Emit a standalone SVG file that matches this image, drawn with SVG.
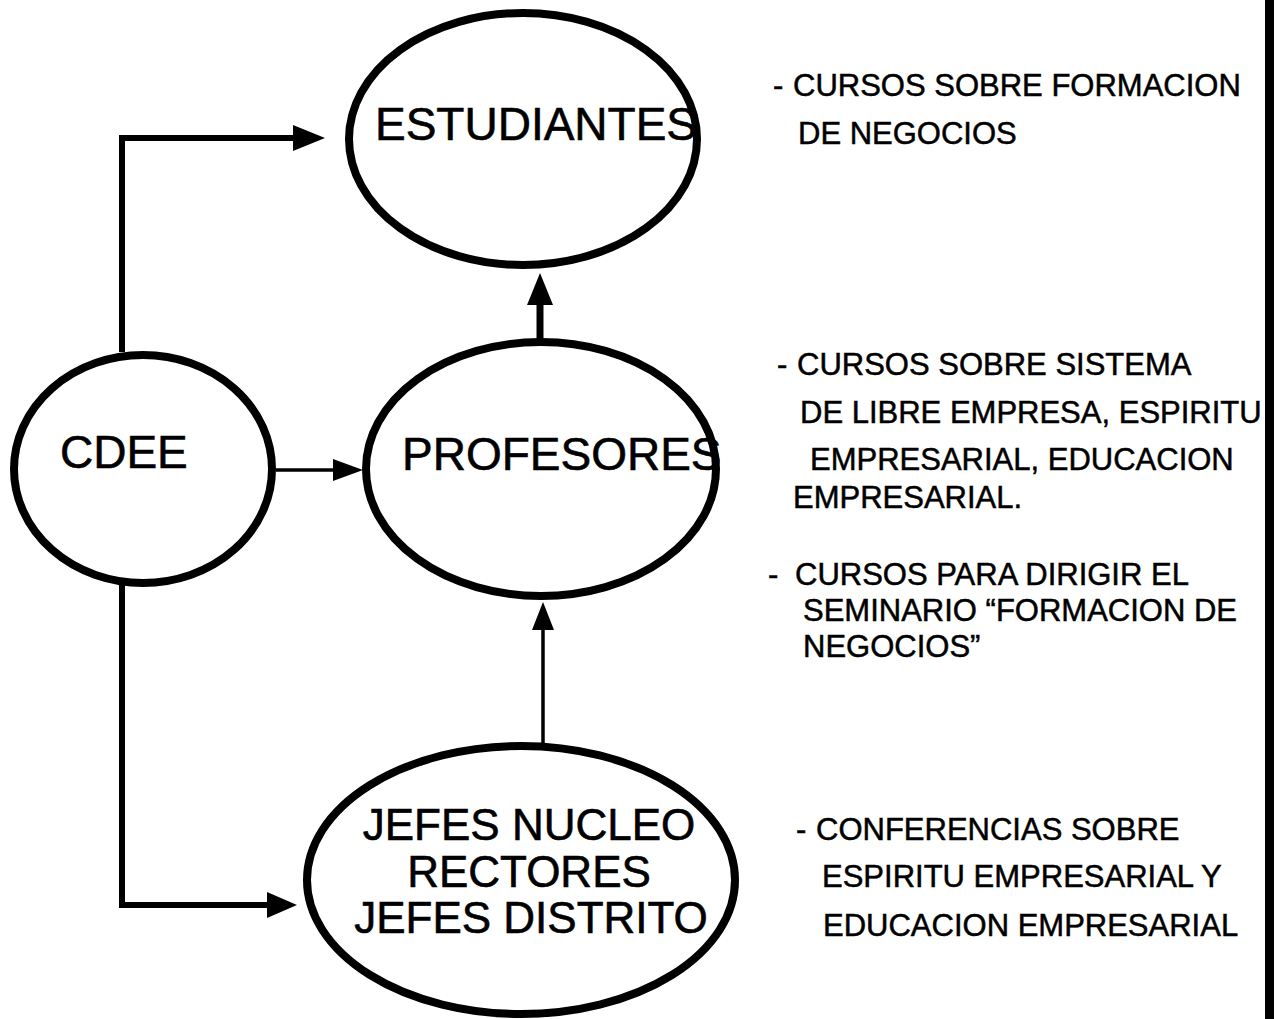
<svg xmlns="http://www.w3.org/2000/svg" width="1278" height="1019" viewBox="0 0 1278 1019">
<style>
.node ellipse{fill:none;stroke:#000;stroke-width:8}
.big{font-family:"Liberation Sans",Arial,sans-serif;font-size:46px;fill:#000;stroke:#000;stroke-width:0.6}
.mid{font-family:"Liberation Sans",Arial,sans-serif;font-size:44px;fill:#000;stroke:#000;stroke-width:0.6;text-anchor:middle}
.note{font-family:"Liberation Sans",Arial,sans-serif;font-size:31px;fill:#000;stroke:#000;stroke-width:0.5}
.thick{fill:none;stroke:#000;stroke-width:6}
.thin{fill:none;stroke:#000;stroke-width:3.5}
.head{fill:#000}
</style>
<rect width="1278" height="1019" fill="#fff"/>
<g id="connectors">
<polyline class="thick" points="122,352 122,138 295,138"/>
<polygon class="head" points="293,125 325,138 293,151"/>
<line class="thin" x1="276" y1="470" x2="335" y2="470"/>
<polygon class="head" points="333,459 363,470 333,481"/>
<line class="thick" x1="540" y1="340" x2="540" y2="303" style="stroke-width:7"/>
<polygon class="head" points="527,305 540,273 553,305"/>
<line class="thin" x1="543" y1="744" x2="543" y2="628"/>
<polygon class="head" points="532,630 543,602 554,630"/>
<polyline class="thick" points="122,585 122,905 269,905"/>
<polygon class="head" points="267,892 297,905 267,918"/>
</g>
<g id="estudiantes" class="node">
<ellipse cx="523" cy="139" rx="174" ry="126"/>
<text class="big" x="375" y="140">ESTUDIANTES</text>
</g>
<g id="cdee" class="node">
<ellipse cx="143" cy="469" rx="129" ry="114"/>
<text class="big" x="60" y="468">CDEE</text>
</g>
<g id="profesores" class="node">
<ellipse cx="541" cy="469" rx="175" ry="127"/>
<text class="big" x="402" y="470">PROFESORES</text>
</g>
<g id="jefes" class="node">
<ellipse cx="521" cy="880" rx="214" ry="134"/>
<text class="mid" x="529" y="840">JEFES NUCLEO</text>
<text class="mid" x="529" y="887">RECTORES</text>
<text class="mid" x="531" y="933">JEFES DISTRITO</text>
</g>
<g id="notes">
<text class="note" x="773" y="96">- <tspan x="793">CURSOS SOBRE FORMACION</tspan></text>
<text class="note" x="798" y="144">DE NEGOCIOS</text>
<text class="note" x="777" y="375">- <tspan x="797">CURSOS SOBRE SISTEMA</tspan></text>
<text class="note" x="800" y="423">DE LIBRE EMPRESA, ESPIRITU</text>
<text class="note" x="810" y="470">EMPRESARIAL, EDUCACION</text>
<text class="note" x="793" y="508">EMPRESARIAL.</text>
<text class="note" x="768" y="585">- <tspan x="795">CURSOS PARA DIRIGIR EL</tspan></text>
<text class="note" x="803" y="621">SEMINARIO “FORMACION DE</text>
<text class="note" x="803" y="657">NEGOCIOS”</text>
<text class="note" x="796" y="840">- <tspan x="816">CONFERENCIAS SOBRE</tspan></text>
<text class="note" x="822" y="887">ESPIRITU EMPRESARIAL Y</text>
<text class="note" x="823" y="936">EDUCACION EMPRESARIAL</text>
</g>
<rect id="bar" x="1265" y="0" width="9" height="1019" fill="#000"/>
</svg>
